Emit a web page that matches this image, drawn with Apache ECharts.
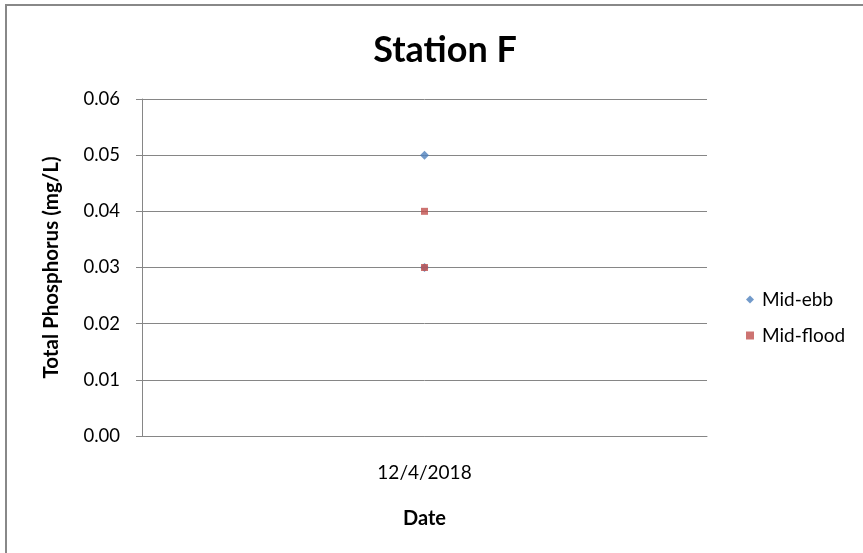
<!DOCTYPE html>
<html>
<head>
<meta charset="utf-8">
<script src="https://cdn.jsdelivr.net/npm/echarts@6/dist/echarts.min.js"></script>
<style>html,body{margin:0;padding:0;background:#fff;}#c{width:863px;height:553px;}</style>
</head>
<body>
<div id="c"></div>
<script>
var categories = ['12/4/2018'];
var midEbbDates = ['12/4/2018', '12/4/2018'];
var midEbb = [0.05, 0.03];
var midFloodDates = ['12/4/2018', '12/4/2018'];
var midFlood = [0.04, 0.03];
var yTicks = [0, 0.01, 0.02, 0.03, 0.04, 0.05, 0.06];

var chart = echarts.init(document.getElementById('c'));
var font = 'Lato, "Open Sans", sans-serif';
chart.setOption({
  animation: false,
  backgroundColor: '#fff',
  title: {
    text: 'Station F', left: 440, top: 27, textAlign: 'center',
    textStyle: { fontFamily: font, fontSize: 36, fontWeight: 'bold', color: '#000' }
  },
  legend: {
    left: 741, top: 285, orient: 'vertical', itemGap: 17, itemWidth: 8, itemHeight: 8,
    textStyle: { fontFamily: font, fontSize: 19, color: '#000', padding: [0, 0, 0, 3] },
    data: [
      { name: 'Mid-ebb', icon: 'diamond' },
      { name: 'Mid-flood', icon: 'rect' }
    ]
  },
  graphic: [{
    type: 'rect', shape: { x: 6, y: 5, width: 900, height: 600 },
    style: { fill: 'none', stroke: '#888', lineWidth: 2 }, silent: true
  }],
  grid: { left: 142, right: 156, top: 99, bottom: 117 },
  xAxis: {
    type: 'category', data: categories,
    name: 'Date', nameLocation: 'middle', nameGap: 73,
    nameTextStyle: { fontFamily: font, fontSize: 20, fontWeight: 'bold', color: '#000' },
    axisLine: { lineStyle: { color: '#868686', width: 1 } },
    axisTick: { show: false },
    axisLabel: { fontFamily: font, fontSize: 19, color: '#000', margin: 27 }
  },
  yAxis: {
    type: 'value', min: yTicks[0], max: yTicks[yTicks.length - 1], interval: 0.01,
    name: 'Total Phosphorus (mg/L)', nameLocation: 'middle', nameGap: 80,
    nameTextStyle: { fontFamily: font, fontSize: 20.5, fontWeight: 'bold', color: '#000' },
    axisLine: { show: true, lineStyle: { color: '#868686', width: 1 } },
    axisTick: { show: true, inside: false, length: 6, lineStyle: { color: '#868686' } },
    axisLabel: { fontFamily: font, fontSize: 18.5, color: '#000', margin: 22,
      formatter: function (v) { return v.toFixed(2); } },
    splitLine: { lineStyle: { color: '#868686', width: 1 } }
  },
  series: [
    {
      name: 'Mid-ebb', type: 'scatter', symbol: 'diamond', symbolSize: 9,
      itemStyle: { color: '#4F81BD' },
      data: midEbb.map(function (v, i) { return [midEbbDates[i], v]; })
    },
    {
      name: 'Mid-flood', type: 'scatter', symbol: 'rect', symbolSize: 7,
      itemStyle: { color: '#C0504D' },
      data: midFlood.map(function (v, i) { return [midFloodDates[i], v]; })
    }
  ]
});
</script>
</body>
</html>
